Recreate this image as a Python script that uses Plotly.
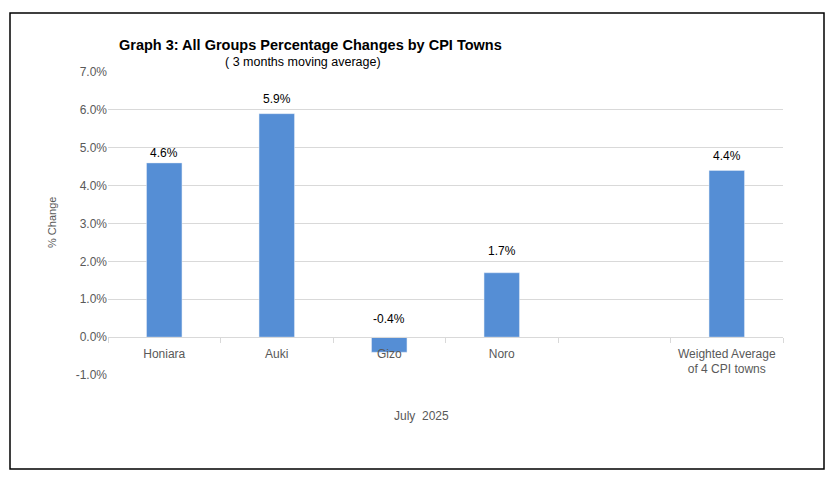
import plotly.graph_objects as go

# CPI towns, 3 month moving average, July 2025
towns = ['Honiara', 'Auki', 'Gizo', 'Noro', ' ', 'Weighted Average<br>of 4 CPI towns']
pct_change = [4.6, 5.9, -0.4, 1.7, None, 4.4]
y_ticks = [-1, 0, 1, 2, 3, 4, 5, 6, 7]

grey = '#595959'
font = 'Liberation Sans'
# label nudges (px) to follow the hand-placed labels of the original
label_shift = [1, 6, 9, 13, 0, 5]

fig = go.Figure()
fig.add_trace(go.Bar(x=towns, y=pct_change, marker_color='#558ED5', width=0.315,
                     hoverinfo='x+y'))

# data labels sit above the bar, or above the zero line for negative values
for t, v, s in zip(towns, pct_change, label_shift):
    if v is None:
        continue
    fig.add_annotation(x=t, y=max(v, 0), text=f'{v:.1f}%', showarrow=False,
                       xanchor='center', yanchor='bottom', yshift=s,
                       font=dict(family=font, size=12, color='black'))

# page has an 8px body margin, so the figure is a bit smaller than the window
fig.update_layout(
    width=827, height=471,
    margin=dict(l=100, r=52, t=64, b=104),
    paper_bgcolor='white', plot_bgcolor='white',
    showlegend=False,
    font=dict(family=font, size=12, color=grey),
)

zero_pos = (0 - y_ticks[0]) / (y_ticks[-1] - y_ticks[0])
fig.update_xaxes(type='category', anchor='free', position=zero_pos,
                 showline=True, linecolor='#D9D9D9', linewidth=1,
                 ticks='outside', tickson='boundaries', ticklen=5, tickcolor='#D9D9D9',
                 ticklabelstandoff=5,
                 tickfont=dict(family=font, size=12, color=grey), showgrid=False)
fig.update_yaxes(range=[y_ticks[0], y_ticks[-1]], tickvals=y_ticks,
                 ticktext=[f'{v:.1f}%' for v in y_ticks],
                 showgrid=True, gridcolor='#D9D9D9', gridwidth=1,
                 zeroline=False, showline=False, ticks='',
                 tickfont=dict(family=font, size=12, color=grey))

# titles (positions in plot-area fractions)
fig.add_annotation(x=(310 - 108) / 675, y=(375 - 35) / 303, xref='paper', yref='paper',
                   text='<b>Graph 3: All Groups Percentage Changes by CPI Towns</b>',
                   xanchor='center', showarrow=False,
                   font=dict(family=font, size=14.5, color='black'))
fig.add_annotation(x=(303 - 108) / 675, y=(375 - 53) / 303, xref='paper', yref='paper',
                   text='( 3 months moving average)', xanchor='center', showarrow=False,
                   font=dict(family=font, size=12.5, color='black'))
fig.add_annotation(x=(52 - 108) / 675, y=(375 - 223) / 303, xref='paper', yref='paper',
                   text='% Change', textangle=-90, xanchor='center', showarrow=False,
                   font=dict(family=font, size=11, color=grey))
fig.add_annotation(x=(421 - 108) / 675, y=(375 - 425) / 303, xref='paper', yref='paper',
                   text='July  2025', xanchor='center', showarrow=False,
                   font=dict(family=font, size=12, color=grey))

# outer frame
fig.add_shape(type='rect', xref='paper', yref='paper',
              x0=(10 - 108) / 675, x1=(824 - 108) / 675,
              y0=(375 - 469) / 303, y1=(375 - 13) / 303,
              line=dict(color='black', width=1.5))

fig.write_html('out.html')
